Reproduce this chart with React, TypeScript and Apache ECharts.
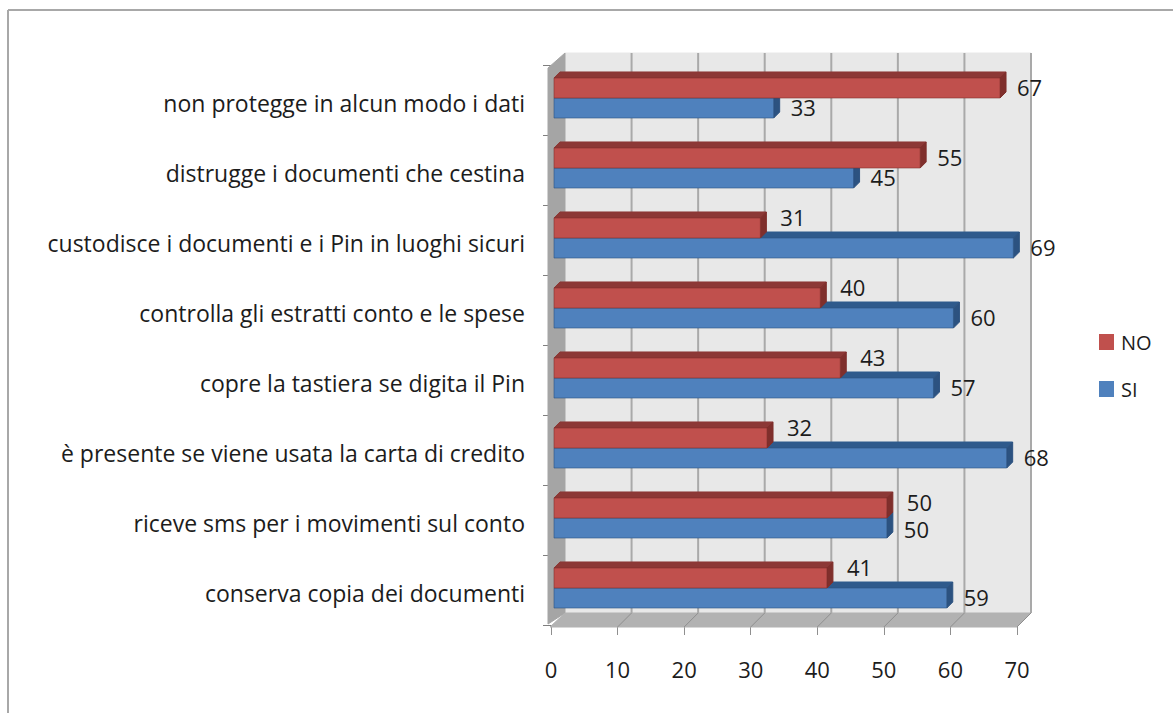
import React, { useEffect, useRef } from "react";
import * as echarts from "echarts";

const categories = [
  "non protegge in alcun modo i dati",
  "distrugge i documenti che cestina",
  "custodisce i documenti e i Pin in luoghi sicuri",
  "controlla gli estratti conto e le spese",
  "copre la tastiera se digita il Pin",
  "è presente se viene usata la carta di credito",
  "riceve sms per i movimenti sul conto",
  "conserva copia dei documenti",
];
const noValues = [67, 55, 31, 40, 43, 32, 50, 41];
const siValues = [33, 45, 69, 60, 57, 68, 50, 59];
const xTicks = [0, 10, 20, 30, 40, 50, 60, 70];

const FONT = '"Open Sans", sans-serif';
const TEXT = "#1c1c1c";
const WALL = "#e8e8e8";
const GRID = "#a9a9a9";
const DEPTH_X = 14;
const DEPTH_Y = 12;
const BAR_DX = 6;
const BAR_DY = 6;
const BAR_START = 3;

function poly(points: number[][], fill: string, stroke?: string, lineWidth = 1) {
  return { type: "polygon", shape: { points }, style: { fill, stroke: stroke || fill, lineWidth } };
}

function renderWalls(params: any, api: any) {
  const cs = params.coordSys;
  const L = cs.x, T = cs.y, R = cs.x + cs.width, B = cs.y + cs.height;
  const floorB = B + 2;
  const children: any[] = [
    poly([[L + DEPTH_X, T - DEPTH_Y], [R + DEPTH_X, T - DEPTH_Y], [R + DEPTH_X, B - DEPTH_Y], [L + DEPTH_X, B - DEPTH_Y]], WALL),
    poly([[L - 3, T + 3], [L + DEPTH_X, T - DEPTH_Y], [L + DEPTH_X, B - DEPTH_Y], [L - 3, floorB - 3]], "#a5a5a5"),
    poly([[L - 1, floorB], [R, floorB], [R + DEPTH_X, B - DEPTH_Y], [L + DEPTH_X, B - DEPTH_Y]], "#b2b2b2"),
  ];
  xTicks.forEach((v, i) => {
    const x = api.coord([v, 0])[0];
    if (i > 0) {
      children.push({
        type: "line",
        shape: { x1: x + DEPTH_X, y1: T - DEPTH_Y, x2: x + DEPTH_X, y2: B - DEPTH_Y },
        style: { stroke: GRID, lineWidth: 2 },
      });
      children.push({
        type: "line",
        shape: { x1: x, y1: floorB, x2: x + DEPTH_X, y2: B - DEPTH_Y },
        style: { stroke: "#8f8f8f", lineWidth: 1 },
      });
    }
  });
  return { type: "group", children };
}

function makeBar(front: string, top: string, side: string, above: boolean, other: number[]) {
  return (params: any, api: any) => {
    const idx = api.value(1);
    const val = api.value(0);
    const [xEnd, yc] = api.coord([val, idx]);
    const band = api.size([0, 1])[1];
    const h = band * 0.286;
    const x0 = api.coord([0, idx])[0] + BAR_START;
    const x1 = xEnd + BAR_START;
    const y0 = above ? yc - h - 2 : yc - 2;
    const y1 = y0 + h;
    const shorter = above && val < other[idx];
    const equal = val === other[idx];
    const labelY = (y0 + y1) / 2 - 1 + (shorter ? -10 : equal && above ? -5 : 0) + (equal && !above ? 2 : 0);
    const labelX = x1 + BAR_DX + (shorter || (equal && above) ? 14 : 11);
    return {
      type: "group",
      children: [
        poly([[x0, y0], [x1, y0], [x1 + BAR_DX, y0 - BAR_DY], [x0 + BAR_DX, y0 - BAR_DY]], top),
        poly([[x1, y0], [x1 + BAR_DX, y0 - BAR_DY], [x1 + BAR_DX, y1 - BAR_DY], [x1, y1]], side),
        { type: "rect", shape: { x: x0, y: y0, width: x1 - x0, height: h }, style: { fill: front, stroke: side, lineWidth: 0.6 } },
        {
          type: "text",
          style: { text: String(val), x: labelX, y: labelY, fill: TEXT, font: `22px ${FONT}`, textAlign: "left", textVerticalAlign: "middle" },
        },
      ],
    };
  };
}

export default function App() {
  const ref = useRef<HTMLDivElement>(null);
  useEffect(() => {
    document.body.style.margin = "0";
    const chart = echarts.init(ref.current!, undefined, { renderer: "svg" });
    chart.setOption({
      animation: false,
      backgroundColor: "#ffffff",
      grid: { left: 551, right: 156, top: 65, height: 560, containLabel: false },
      legend: {
        data: ["NO", "SI"],
        icon: "rect",
        orient: "vertical",
        left: 1094,
        top: 327,
        itemWidth: 15,
        itemHeight: 16,
        itemGap: 27,
        textStyle: { fontFamily: FONT, fontSize: 20, color: TEXT, padding: [0, 0, 0, 2] },
        selectedMode: false,
      },
      xAxis: {
        type: "value",
        min: 0,
        max: 70,
        interval: 10,
        axisLine: { show: true, lineStyle: { color: "#a0a0a0", width: 1 } },
        axisTick: { show: true, length: 10, lineStyle: { color: "#8f8f8f", width: 1 } },
        axisLabel: { margin: 33, fontFamily: FONT, fontSize: 22, color: TEXT },
        splitLine: { show: false },
      },
      yAxis: {
        type: "category",
        inverse: true,
        data: categories,
        axisLine: { show: false },
        axisTick: { show: true, length: 8, lineStyle: { color: "#7f7f7f", width: 1 } },
        axisLabel: { margin: 26, fontFamily: FONT, fontSize: 23, color: TEXT, verticalAlign: "top", lineHeight: 6 },
      },
      graphic: [
        { type: "line", silent: true, shape: { x1: 8, y1: 10, x2: 1173, y2: 10 }, style: { stroke: "#a8a8a8", lineWidth: 2 } },
        { type: "line", silent: true, shape: { x1: 8, y1: 10, x2: 8, y2: 713 }, style: { stroke: "#a8a8a8", lineWidth: 2 } },
      ],
      series: [
        { type: "custom", name: "walls", z: 1, silent: true, data: [[0, 0]], encode: { x: 0, y: 1 }, renderItem: renderWalls },
        {
          type: "custom",
          name: "SI",
          z: 2,
          itemStyle: { color: "#4f81bd" },
          data: siValues.map((v, i) => [v, i]),
          encode: { x: 0, y: 1 },
          renderItem: makeBar("#4f81bd", "#2f5a8c", "#2c5280", false, noValues),
        },
        {
          type: "custom",
          name: "NO",
          z: 3,
          itemStyle: { color: "#c0504d" },
          data: noValues.map((v, i) => [v, i]),
          encode: { x: 0, y: 1 },
          renderItem: makeBar("#c0504d", "#8c3836", "#7f2f2c", true, siValues),
        },
      ],
    });
    return () => chart.dispose();
  }, []);
  return <div ref={ref} style={{ width: 1173, height: 713 }} />;
}
